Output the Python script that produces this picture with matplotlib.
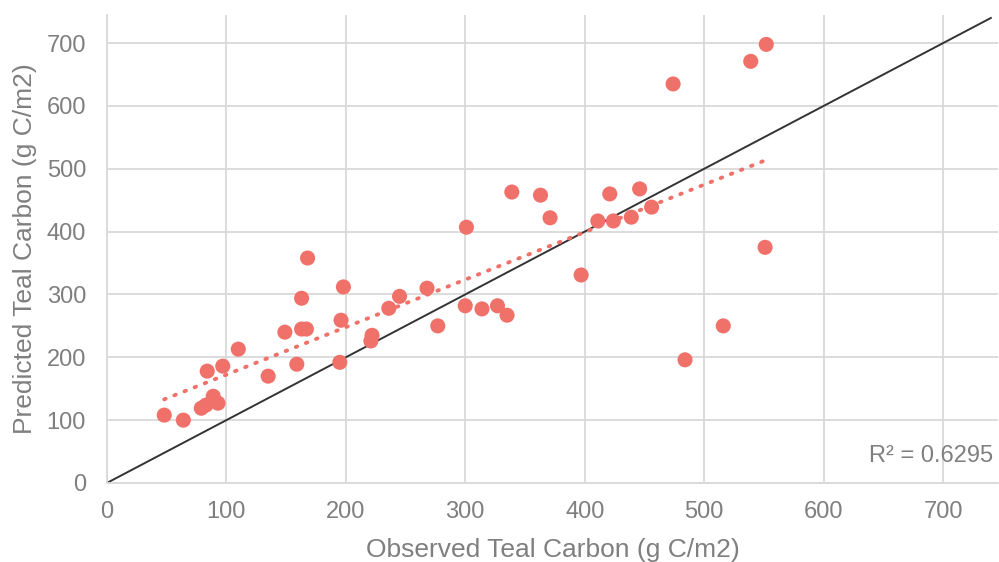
import matplotlib.pyplot as plt
import numpy as np

plt.rcParams["font.family"] = ["Liberation Sans", "DejaVu Sans"]

# observed vs predicted teal carbon (g C/m2)
observed = [48, 64, 79, 83, 84, 89, 93, 97, 110, 135, 149, 159, 163, 163, 167,
            168, 195, 196, 198, 221, 222, 236, 245, 268, 277, 301, 300, 314,
            327, 335, 339, 363, 371, 397, 411, 421, 424, 439, 446, 456, 474,
            484, 516, 539, 551, 552]
predicted = [108, 100, 119, 124, 178, 138, 127, 186, 213, 170, 240, 189, 294,
             245, 245, 358, 192, 259, 312, 226, 235, 278, 297, 310, 250, 407,
             282, 277, 282, 267, 463, 458, 422, 331, 417, 460, 417, 423, 468,
             439, 635, 196, 250, 671, 375, 698]
one_to_one = [0, 740]
r2_label = "R² = 0.6295"

TEXT = "#7F7F7F"
GRID = "#D9D9D9"
POINT = "#F0716A"

fig = plt.figure(figsize=(9.99, 5.62), dpi=100)
ax = fig.add_axes([0.107, 0.1406, 0.892, 0.833])

ax.grid(True, color=GRID, linewidth=1.3, zorder=0)
ax.set_axisbelow(True)

x = np.array(observed, dtype=float)
y = np.array(predicted, dtype=float)

ax.plot(one_to_one, one_to_one, color="#333333", linewidth=1.4, zorder=2)

# linear trend through the points
slope, icpt = np.polyfit(x, y, 1)
xt = np.array([x.min(), x.max()])
ax.plot(xt, slope * xt + icpt, color=POINT, linewidth=2.8,
        linestyle=(0, (0.4, 2.4)), dash_capstyle="round", zorder=3)

ax.scatter(x, y, s=118, color=POINT, edgecolors="none", zorder=4)

ax.text(0.995, 0.058, r2_label, transform=ax.transAxes, ha="right",
        va="center", fontsize=17, color=TEXT)

ax.set_xlim(0, 746)
ax.set_ylim(0, 745)
ax.set_xticks(range(0, 701, 100))
ax.set_yticks(range(0, 701, 100))
ax.tick_params(length=0, labelsize=17, labelcolor=TEXT)
ax.tick_params(axis="x", pad=13)
ax.tick_params(axis="y", pad=15)
for side in ["top", "right"]:
    ax.spines[side].set_visible(False)
for side in ["left", "bottom"]:
    ax.spines[side].set_color(GRID)
    ax.spines[side].set_linewidth(1.3)

ax.set_xlabel("Observed Teal Carbon (g C/m2)", fontsize=19, color=TEXT, labelpad=10.5)
ax.set_ylabel("Predicted Teal Carbon (g C/m2)", fontsize=19, color=TEXT, labelpad=7)

fig.savefig("out.png", dpi=100)
